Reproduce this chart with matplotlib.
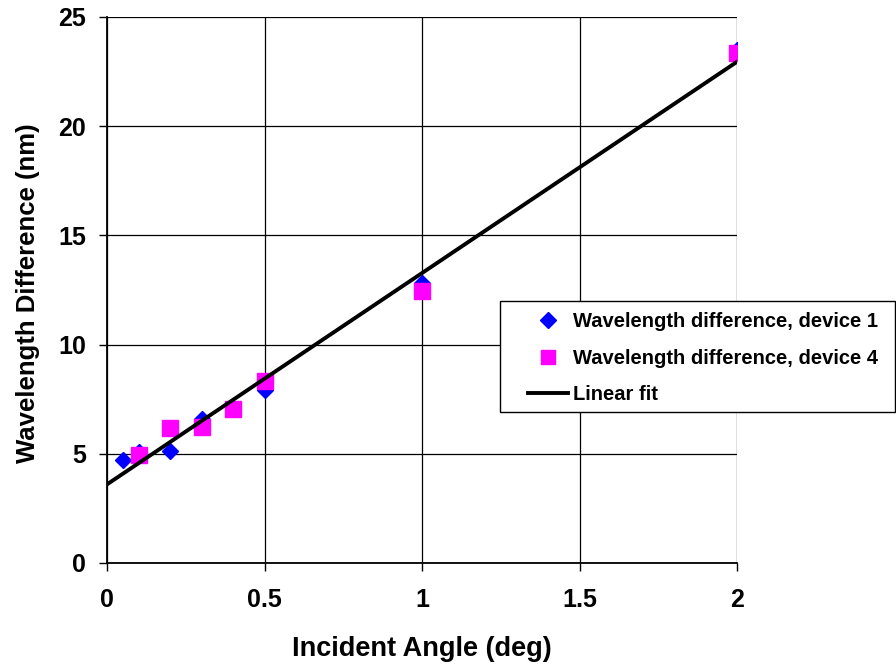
import matplotlib.pyplot as plt
from matplotlib.patches import Rectangle

plt.rcParams["font.family"] = ["Liberation Sans", "DejaVu Sans"]
plt.rcParams["font.weight"] = "bold"

angle_dev1 = [0.05, 0.1, 0.2, 0.3, 0.4, 0.5, 1.0, 2.0]
diff_dev1 = [4.7, 5.1, 5.15, 6.6, 7.1, 7.9, 12.8, 23.5]

angle_dev4 = [0.1, 0.2, 0.3, 0.4, 0.5, 1.0, 2.0]
diff_dev4 = [4.95, 6.2, 6.25, 7.05, 8.35, 12.45, 23.35]

fit_x = [0.0, 2.0]
fit_y = [3.6, 22.95]

W, H = 896, 664
fig = plt.figure(figsize=(W / 100, H / 100), dpi=100)
ax = fig.add_axes([107 / W, 1 - 563 / H, 630 / W, 546 / H])

h1, = ax.plot(angle_dev1, diff_dev1, "D", color="#0000ff", markersize=8.5,
              linestyle="none", label="Wavelength difference, device 1", zorder=3)
h4, = ax.plot(angle_dev4, diff_dev4, "s", color="#ff00ff", markersize=11,
              linestyle="none", label="Wavelength difference, device 4", zorder=4)
hf, = ax.plot(fit_x, fit_y, "-", color="black", linewidth=2.8, label="Linear fit", zorder=5)

ax.set_xlim(0, 2)
ax.set_ylim(0, 25)
ax.set_xticks([0, 0.5, 1, 1.5, 2])
ax.set_xticklabels(["0", "0.5", "1", "1.5", "2"])
ax.set_yticks([0, 5, 10, 15, 20, 25])
ax.grid(True, color="black", linewidth=0.9)
ax.set_axisbelow(True)
for side in ["top", "right"]:
    ax.spines[side].set_visible(False)
for side in ["left", "bottom"]:
    ax.spines[side].set_linewidth(1.3)
ax.tick_params(direction="out", length=6, width=1, labelsize=18)
ax.tick_params(axis="x", pad=12)
ax.tick_params(axis="y", pad=9)
for lab in ax.get_xticklabels() + ax.get_yticklabels():
    lab.set_fontweight("bold")

ax.set_xlabel("Incident Angle (deg)", fontsize=19.5, fontweight="bold")
ax.set_ylabel("Wavelength Difference (nm)", fontsize=18.5, fontweight="bold")
ax.xaxis.set_label_coords(0.5, -0.133)
ax.yaxis.set_label_coords(-0.106, 0.494)

# legend box sits partly outside the plot area
fig.patches.append(Rectangle((500 / W, 1 - 412 / H), 395 / W, 111 / H,
                             transform=fig.transFigure, facecolor="white",
                             edgecolor="black", linewidth=1.0, zorder=10))
leg = fig.legend(handles=[h1, h4, hf], loc="upper left",
                 bbox_to_anchor=(528 / W, 1 - 312 / H), frameon=False,
                 handlelength=2.0, handletextpad=0.25, labelspacing=0.88,
                 borderpad=0, borderaxespad=0,
                 prop={"weight": "bold", "size": 14.5})
leg.set_zorder(11)
leg.legend_handles[0].set_markersize(8)
leg.legend_handles[1].set_markersize(9.5)

fig.savefig("out.png", dpi=100)
